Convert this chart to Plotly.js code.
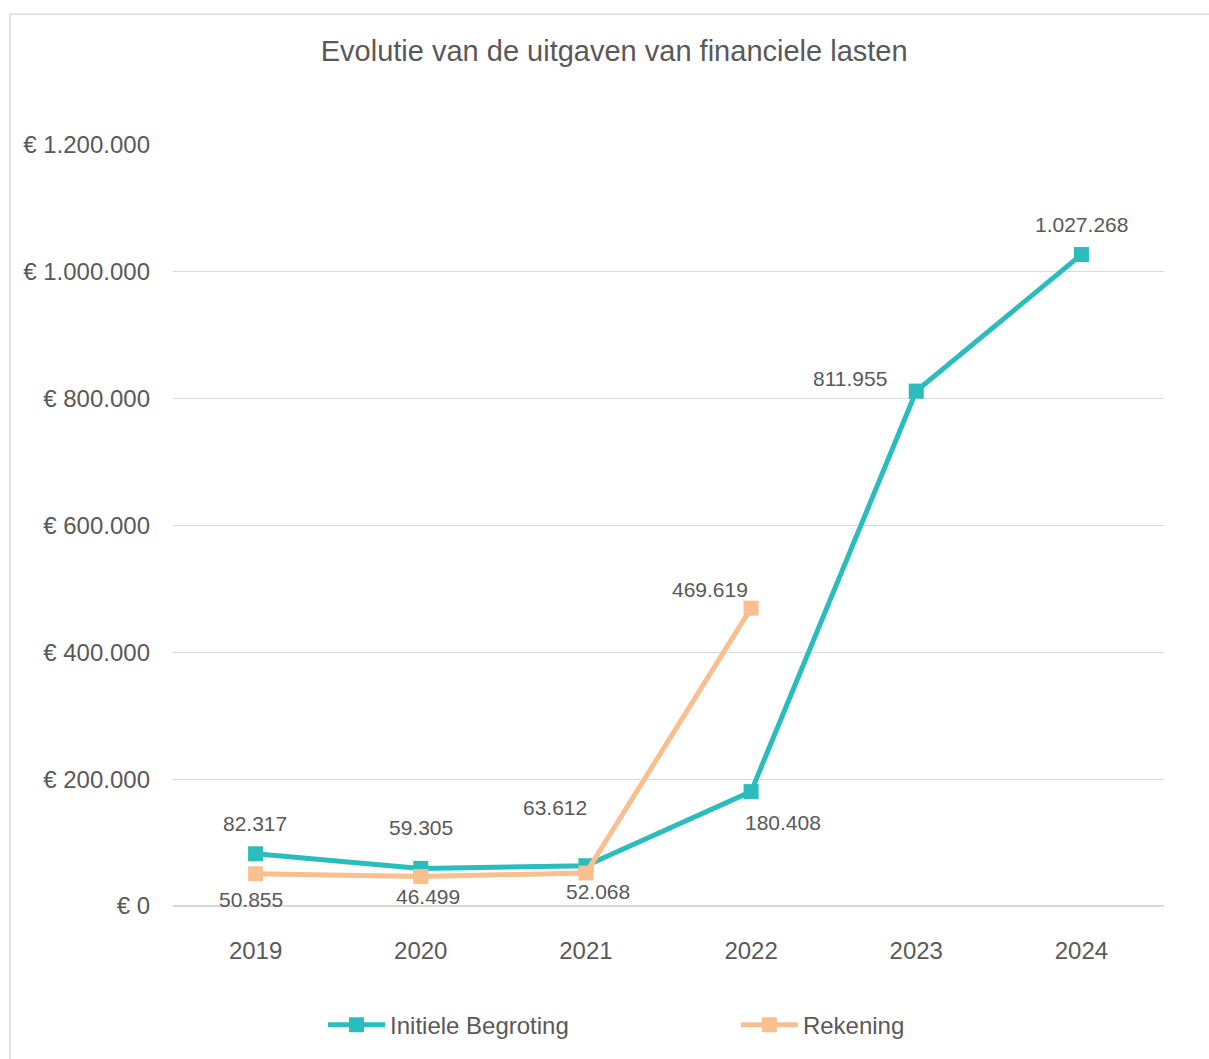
<!DOCTYPE html>
<html>
<head>
<meta charset="utf-8">
<script src="https://cdn.plot.ly/plotly-3.0.1.min.js"></script>
<style>
html,body{margin:0;padding:0;background:#fff;}
#chart{width:1209px;height:1059px;}
</style>
</head>
<body>
<div id="chart"></div>
<script>
const years = ['2019','2020','2021','2022','2023','2024'];
const begroting = [82317, 59305, 63612, 180408, 811955, 1027268];
const rekeningYears = ['2019','2020','2021','2022'];
const rekening = [50855, 46499, 52068, 469619];
const seriesNames = ['Initiele Begroting', 'Rekening'];

// label offsets in pixels (style, not data): [dx, dy] with dy positive = downwards
const begrotingLabelOffset = [[-1,-30],[0,-41],[-31,-58],[32,31],[-66,-13],[0,-30]];
const rekeningLabelOffset = [[-5,26],[7,20],[12,19],[-41,-19]];

const textColor = '#595959';
const fontFam = 'Liberation Sans, Arial, sans-serif';
const tealC = '#2BBDBD';
const orangeC = '#F9BF8F';

const fmt = v => v.toString().replace(/\B(?=(\d{3})+(?!\d))/g, '.');

const traces = [
  {
    x: years, y: begroting, name: seriesNames[0], type: 'scatter', mode: 'lines+markers',
    line: {color: tealC, width: 5},
    marker: {symbol: 'square', size: 15, color: tealC},
    legend: 'legend', cliponaxis: false
  },
  {
    x: rekeningYears, y: rekening, name: seriesNames[1], type: 'scatter', mode: 'lines+markers',
    line: {color: orangeC, width: 5},
    marker: {symbol: 'square', size: 15, color: orangeC},
    legend: 'legend2', cliponaxis: false
  }
];

const annotations = [];
function addLabels(xs, ys, offs) {
  xs.forEach((x, i) => {
    annotations.push({
      x: years.indexOf(x), y: ys[i], xref: 'x', yref: 'y', text: fmt(ys[i]), showarrow: false,
      xanchor: 'center', yanchor: 'middle', xshift: offs[i][0], yshift: -offs[i][1],
      font: {size: 21, color: textColor, family: fontFam}
    });
  });
}
addLabels(years, begroting, begrotingLabelOffset);
addLabels(rekeningYears, rekening, rekeningLabelOffset);

const legendCommon = {orientation: 'h', xanchor: 'left', y: -0.155, yanchor: 'middle',
  font: {size: 24, color: textColor, family: fontFam}, itemwidth: 57, bgcolor: 'rgba(0,0,0,0)'};

const layout = {
  width: 1209, height: 1059,
  margin: {l: 173, r: 45, t: 145, b: 152},
  paper_bgcolor: '#fff', plot_bgcolor: '#fff',
  separators: ',.',
  font: {family: fontFam, color: textColor},
  title: {text: 'Evolutie van de uitgaven van financiele lasten', x: 0.508, xanchor: 'center', y: 0.952, yanchor: 'middle',
          font: {size: 29, color: textColor, family: fontFam}},
  xaxis: {type: 'category', categoryorder: 'array', categoryarray: years, range: [-0.5, 5.5],
          showgrid: false, zeroline: false, showline: false, ticks: '',
          tickfont: {size: 24, color: textColor}, ticklabelstandoff: 28},
  yaxis: {range: [0, 1200000], dtick: 200000, tickformat: ',d', tickprefix: '€ ',
          showgrid: true, gridcolor: '#D9D9D9', gridwidth: 1, zeroline: true, zerolinecolor: '#D9D9D9', zerolinewidth: 1.5,
          tickfont: {size: 24, color: textColor}, ticklabelstandoff: 22},
  showlegend: true,
  legend: Object.assign({}, legendCommon, {x: 0.1514}),
  legend2: Object.assign({}, legendCommon, {x: 0.568}),
  annotations: annotations,
  shapes: [
    {type: 'rect', xref: 'paper', yref: 'paper', x0: -0.1645, x1: 1.06, y0: -0.22, y1: 1.1719,
     line: {color: '#D9D9D9', width: 1.5}, fillcolor: 'rgba(0,0,0,0)', layer: 'below'}
  ]
};

Plotly.newPlot('chart', traces, layout, {displayModeBar: false, staticPlot: true});
</script>
</body>
</html>
